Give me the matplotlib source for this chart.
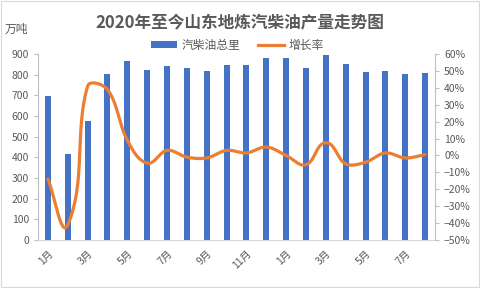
import numpy as np
import matplotlib
matplotlib.use("Agg")
import matplotlib.pyplot as plt
from matplotlib.lines import Line2D
from matplotlib.patches import Patch, Rectangle
from matplotlib.ticker import FuncFormatter

plt.rcParams['font.family'] = ['Noto Sans CJK SC', 'DejaVu Sans']

months = ['1月', '2月', '3月', '4月', '5月', '6月', '7月', '8月', '9月', '10月', '11月', '12月',
          '1月', '2月', '3月', '4月', '5月', '6月', '7月', '8月']
output = [695, 415, 578, 805, 868, 825, 843, 833, 820, 845, 848, 883, 883, 830, 893, 850, 812, 820, 803, 806]
growth = [-14, -41, 41, 39, 9, -4.5, 3, -1, -1.5, 3, 1.5, 5, 0, -5.5, 7.5, -5, -4, 1.5, -1.5, 0.5]
bar_label = '汽柴油总里'
line_label = '增长率'
title = '2020年至今山东地炼汽柴油产量走势图'
unit = '万吨'

BLUE = '#4472C4'
ORANGE = '#ED7D31'
GRAY = '#595959'
AX = '#BFBFBF'


def smooth_pixels(P, k=1/3, n=30):
    """Bezier smoothing in pixel space with tangents scaled by segment length."""
    out = []
    m = len(P)
    for i in range(m - 1):
        p0 = P[i - 1] if i > 0 else P[i]
        p1 = P[i]
        p2 = P[i + 1]
        p3 = P[i + 2] if i + 2 < m else P[i + 1]
        L = np.linalg.norm(p2 - p1)
        t1 = p2 - p0
        t2 = p3 - p1
        t1 = t1 / np.linalg.norm(t1)
        t2 = t2 / np.linalg.norm(t2)
        c1 = p1 + k * L * t1
        c2 = p2 - k * L * t2
        t = np.linspace(0, 1, n)[:, None]
        seg = ((1 - t) ** 3) * p1 + 3 * ((1 - t) ** 2) * t * c1 + 3 * (1 - t) * t ** 2 * c2 + t ** 3 * p2
        out.append(seg if i == 0 else seg[1:])
    return np.vstack(out)


fig = plt.figure(figsize=(4.8, 2.88), dpi=100)
fig.patches.append(Rectangle((0.002, 0.004), 0.995, 0.992, transform=fig.transFigure,
                             fill=False, edgecolor='#D9D9D9', linewidth=0.8))

ax = fig.add_axes([38 / 480, 1 - 240 / 288, 397 / 480, 186 / 288])
x = np.arange(len(months))
ax.bar(x, output, width=0.3, color=BLUE, zorder=2)
ax.set_xlim(-0.5, len(months) - 0.5)
ax.set_ylim(0, 900)
ax.set_yticks(np.arange(0, 901, 100))
ax.set_xticks(x[::2])
ax.set_xticklabels(months[::2], rotation=45, ha='right', rotation_mode='anchor',
                   fontsize=7.5, color=GRAY)
ax.tick_params(axis='x', length=0, pad=6)
ax.tick_params(axis='y', labelsize=7.5, labelcolor=GRAY, color=AX, length=3, width=0.8, direction='out')
for s in ['top', 'right']:
    ax.spines[s].set_visible(False)
ax.spines['left'].set_color(AX)
ax.spines['bottom'].set_color('#D9D9D9')
ax.spines['left'].set_linewidth(0.8)
ax.spines['bottom'].set_linewidth(0.8)

ax2 = ax.twinx()
ax2.set_ylim(-50, 60)
# smooth in display space, then map back to data coordinates
pts = ax2.transData.transform(np.column_stack([x, growth]))
sm = smooth_pixels(pts)
sm_data = ax2.transData.inverted().transform(sm)
ax2.plot(sm_data[:, 0], sm_data[:, 1], color=ORANGE, linewidth=2.3, solid_capstyle='round', zorder=3)
ax2.set_ylim(-50, 60)
ax2.set_yticks(np.arange(-50, 61, 10))
ax2.yaxis.set_major_formatter(FuncFormatter(lambda v, p: f"{int(round(v))}%".replace('-', '−')))
ax2.tick_params(axis='y', labelsize=7.5, labelcolor=GRAY, color=AX, length=3, width=0.8, direction='out')
for s in ['top', 'left', 'bottom']:
    ax2.spines[s].set_visible(False)
ax2.spines['right'].set_color(AX)
ax2.spines['right'].set_linewidth(0.8)

fig.text(0.5, 1 - 22 / 288, title, ha='center', va='center', fontsize=12,
         fontweight='bold', color=GRAY)
fig.text(5 / 480, 1 - 29 / 288, unit, ha='left', va='center', fontsize=8.5, color=GRAY)

handles = [Patch(facecolor=BLUE, edgecolor='none'),
           Line2D([0], [0], color=ORANGE, linewidth=2.3)]
fig.legend(handles, [bar_label, line_label], loc='center', bbox_to_anchor=(0.495, 1 - 45 / 288),
           ncol=2, frameon=False, fontsize=8.5, labelcolor=GRAY, handlelength=2.2,
           handleheight=0.5, columnspacing=1.5, handletextpad=0.4)

fig.savefig('out.png', dpi=100)
